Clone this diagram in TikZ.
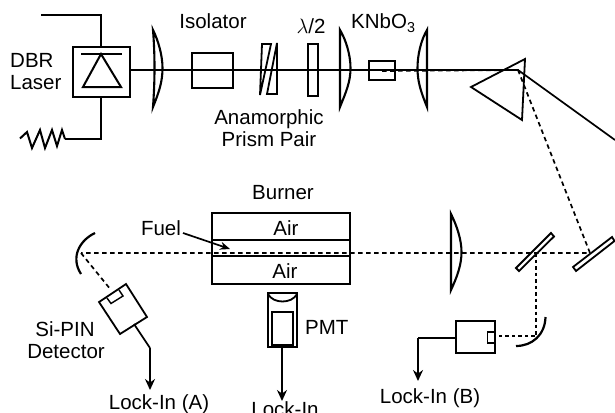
\documentclass[tikz,border=0pt]{standalone}
\usepackage{fontspec}
\setmainfont{Liberation Sans}
\usetikzlibrary{arrows.meta}
\tikzset{
  part/.style={draw=black,line width=1.8pt,line join=miter},
  thin part/.style={draw=black,line width=1.4pt},
  beam/.style={draw=black,line width=1.7pt},
  dash beam/.style={draw=black,line width=1.7pt,dash pattern=on 4.5pt off 3.5pt},
  dot beam/.style={draw=black,line width=2.4pt,dash pattern=on 3.5pt off 3pt},
  wire/.style={draw=black,line width=1.7pt},
  out wire/.style={wire,-{Stealth[length=11pt,width=10pt]}},
  lens/.style={draw=black,line width=2.1pt,line join=miter},
  lbl/.style={inner sep=0pt,font=\fontsize{20.5}{20.5}\selectfont,text=black,anchor=base},
}
\begin{document}
\begin{tikzpicture}[x=1pt,y=-1pt]
\useasboundingbox (0,0) rectangle (615,412);
\clip (0,0) rectangle (615,412);
% named anchor points
\coordinate (fa) at (41,15);
\coordinate (fb) at (101,15);
\coordinate (lt) at (101,47);
\coordinate (lb) at (101,97);
\coordinate (lc) at (101,139);
\coordinate (lr) at (65,139);
\coordinate (lout) at (130,70);
\coordinate (pin) at (518,70);
\coordinate (pout) at (615,140);
\coordinate (dstart) at (382,71);
\coordinate (m2) at (590,253);
\coordinate (mL) at (81,253);
\coordinate (bs) at (536,253);
\coordinate (mR) at (536,336);
\coordinate (detB) at (495,336);
\coordinate (detAin) at (111,290);
% laser
\draw[part] (73,47) rectangle (130,97);
\draw[wire] (fa) -- (fb) -- (lt);
\draw[wire] (lb) -- (lc) -- (lr);
\draw[part,line width=2pt] (81,54) -- (122,54);
\draw[part,line width=2pt] (101,54) -- (121,87) -- (83,87) -- cycle;
\draw[part,line width=2pt] (20,138.5) -- (27,132) -- (32,148) -- (40,130) -- (45,148) -- (52,130) -- (57,146) -- (62,130) -- (65,139);
% optics
\draw[lens] (153,30) .. controls (155,55) and (155,80) .. (153,107) .. controls (159,92) and (162.5,82) .. (162.5,68) .. controls (162.5,55) and (158,40) .. (153,30) -- cycle;
\draw[part] (192,53) rectangle (233,88);
\draw[part] (262,44) -- (271,44) -- (260,95) -- cycle;
\draw[part] (277,43) -- (277,94) -- (267,94) -- cycle;
\draw[part] (308,44) rectangle (318,96);
\draw[lens] (340,30) -- (340,107) .. controls (346,92) and (350.5,82) .. (350.5,68) .. controls (350.5,55) and (346,40) .. (340,30) -- cycle;
\draw[part] (369,61) rectangle (395,80);
\draw[lens] (427,30) -- (427,107) .. controls (421,92) and (417.5,82) .. (417.5,68) .. controls (417.5,55) and (421,40) .. (427,30) -- cycle;
\draw[part] (525,59) -- (522,120) -- (471,87) -- cycle;
% burner
\draw[part] (212,213) rectangle (350,284);
\draw[part] (212,240) -- (350,240);
\draw[part] (212,256) -- (350,256);
% left mirror and detector A
\draw[part,line width=2.2pt] (95,233) .. controls (80,240) and (70,257) .. (81,274);
\draw[part] (126,284) -- (147,317) -- (120,334) -- (99,302) -- cycle;
\draw[thin part] (107,298) -- (111,303.5) -- (123,296) -- (119,290);
\coordinate (da) at (134,324);
\coordinate (db) at (150,348);
\coordinate (dc) at (150,390);
\draw[wire] (da) -- (db);
\draw[out wire] (db) -- (dc);
% Fuel arrow
\coordinate (fs) at (183,233);
\coordinate (fe) at (230,249);
\draw[wire,-{Stealth[length=10pt,width=8pt]}] (fs) -- (fe);
% PMT
\draw[part] (268,293) rectangle (297,347);
\draw[part] (272,312) rectangle (293,345);
\draw[part] (268,294) .. controls (273,304) and (292,304) .. (297,294);
\coordinate (pa) at (282,347);
\coordinate (pb) at (282,401);
\draw[out wire] (pa) -- (pb);
% right lens and mirrors
\draw[lens] (451,214) -- (451,290) .. controls (457,277) and (461.5,265) .. (461.5,252) .. controls (461.5,240) and (457,226) .. (451,214) -- cycle;
\draw[part] (551,233) -- (554,236.5) -- (519,271) -- (516,268) -- cycle;
\draw[part] (612,237) -- (614.5,241) -- (576,271) -- (573,267) -- cycle;
\draw[part,line width=2.2pt] (545.5,317) .. controls (545,335) and (532,346) .. (516,346);
% beams
\draw[beam] (lout) -- (pin) -- (pout);
\draw[dash beam] (dstart) -- (pin) -- (m2) -- (mL);
\draw[dash beam] (mL) -- (detAin);
\draw[dot beam] (bs) -- (mR) -- (detB);
% detector B
\draw[part] (456,321) rectangle (495,353);
\draw[thin part] (495,332) -- (487.5,332) -- (487.5,343) -- (495,343);
\coordinate (ba) at (456,338);
\coordinate (bb) at (418,338);
\coordinate (bc) at (418,381);
\draw[wire] (ba) -- (bb);
\draw[out wire] (bb) -- (bc);
% labels
\node[lbl,anchor=base west] (t1) at (10,67) {DBR};
\node[lbl,anchor=base west] (t2) at (10,89) {Laser};
\node[lbl] (t3) at (213,29) {Isolator};
\node[lbl] (t4) at (311,34) {$\lambda$/2};
\node[lbl,anchor=base west] (t5) at (351,29) {KNbO\textsubscript{3}};
\node[lbl] (t6) at (269,124) {Anamorphic};
\node[lbl] (t7) at (269,146) {Prism Pair};
\node[lbl] (t8) at (283,199) {Burner};
\node[lbl] (t9) at (286,235) {Air};
\node[lbl] (t10) at (285,278) {Air};
\node[lbl] (t11) at (161,235) {Fuel};
\node[lbl] (t12) at (65,336) {Si-PIN};
\node[lbl] (t13) at (66,358) {Detector};
\node[lbl] (t14) at (159,409) {Lock-In (A)};
\node[lbl] (t15) at (285,416) {Lock-In};
\node[lbl,anchor=base west] (t16) at (305,334) {PMT};
\node[lbl] (t17) at (430,403) {Lock-In (B)};
\end{tikzpicture}
\end{document}
